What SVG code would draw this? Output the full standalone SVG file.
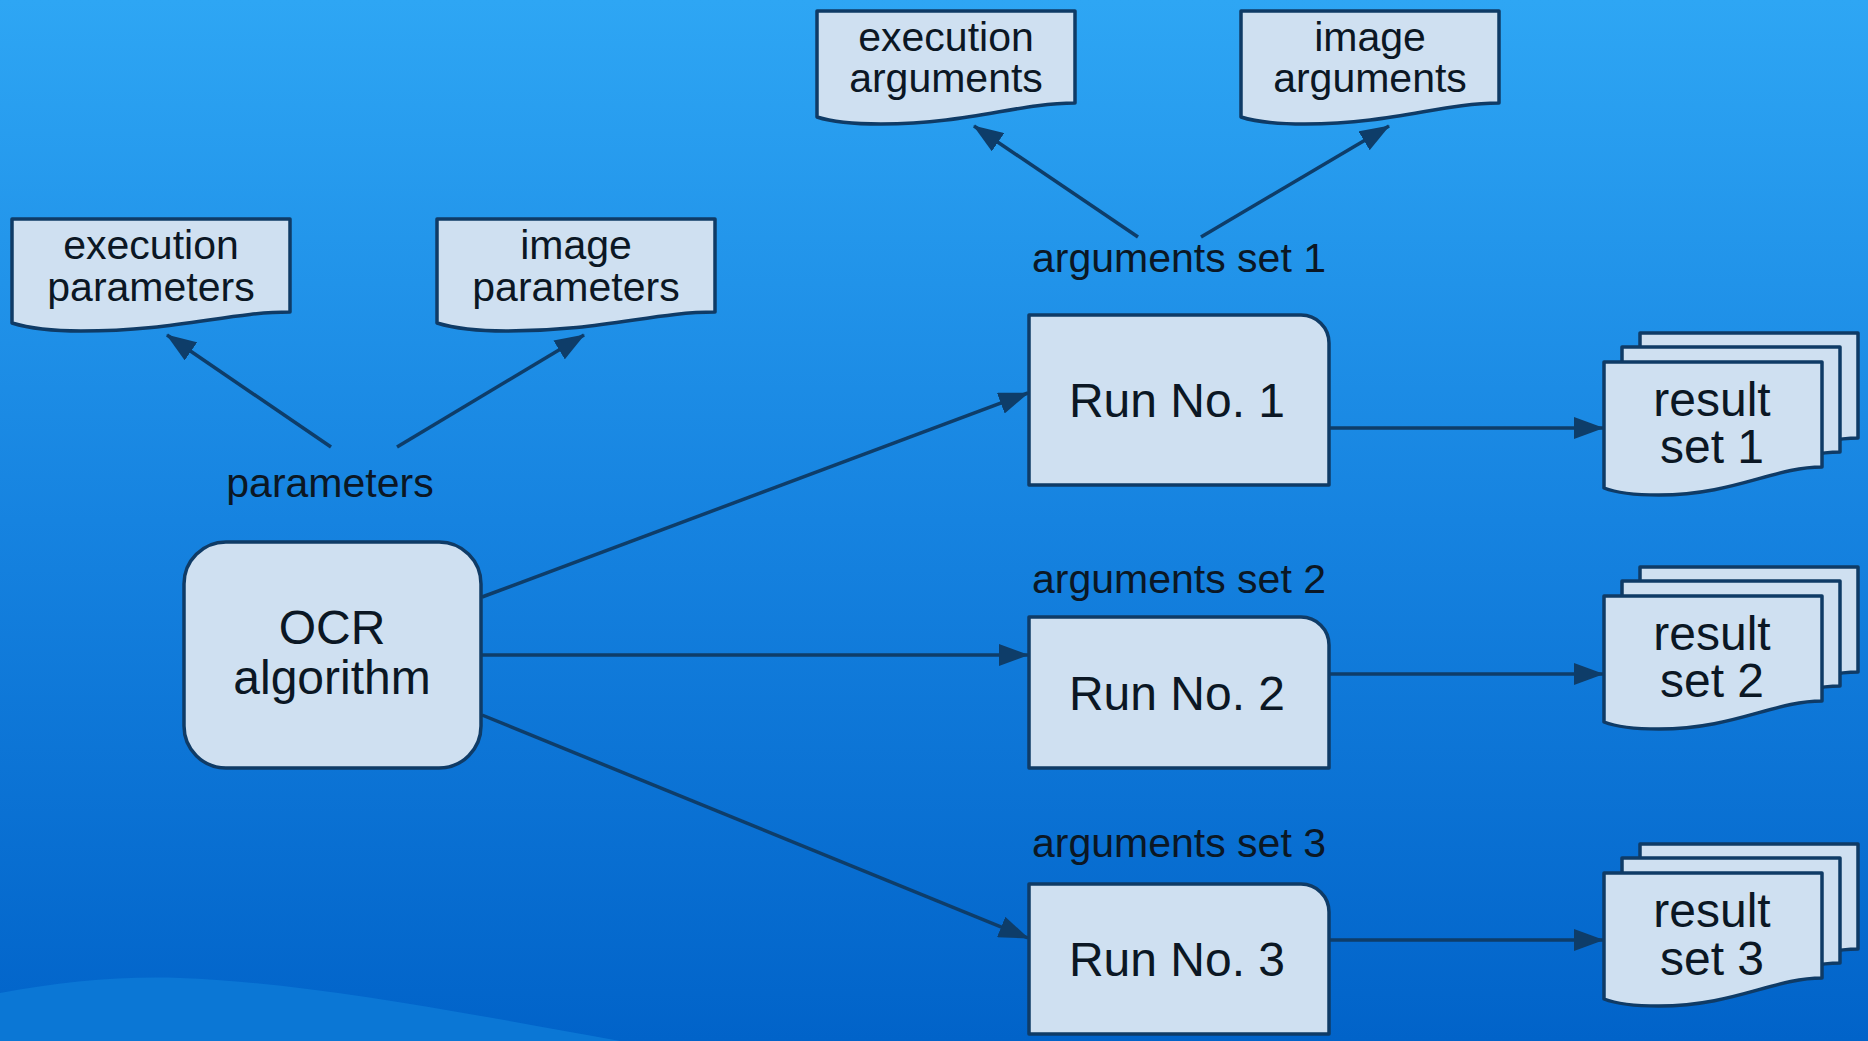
<svg xmlns="http://www.w3.org/2000/svg" width="1868" height="1041" viewBox="0 0 1868 1041">
  <defs>
    <linearGradient id="bg" x1="0" y1="0" x2="0" y2="1">
      <stop offset="0" stop-color="#2ea6f4"/>
      <stop offset="0.5" stop-color="#1683e0"/>
      <stop offset="1" stop-color="#0163c9"/>
    </linearGradient>
    <marker id="arrow" markerUnits="userSpaceOnUse" markerWidth="30" markerHeight="22" refX="29" refY="11" orient="auto">
      <path d="M0,0 L30,11 L0,22 Z" fill="#0e3d69"/>
    </marker>
    <!-- document outlines, drawn from their top-left corner -->
    <path id="docParam" d="M0,0 H278 V93 C217,93 164,112 69,112 C33,112 13,108 0,104 Z"/>
    <path id="docArg" d="M0,0 H258 V92 C201,92 152,113 64,113 C31,113 12,110 0,106 Z"/>
    <path id="docResult" d="M0,0 H218 V105 C170,105 130,133 55,133 C27,133 10,130 0,126 Z"/>
  </defs>
  <style>
    .shape { fill: #cfe0f1; stroke: #0f3b66; stroke-width: 3.5; stroke-linejoin: round; }
    .edge { fill: none; stroke: #0e3d69; stroke-width: 3.5; marker-end: url(#arrow); }
    text { font-family: "Liberation Sans", Arial, sans-serif; fill: #0b1724; text-anchor: middle; }
    .doc { font-size: 41px; }
    .lbl { font-size: 41px; }
    .big { font-size: 48px; }
  </style>

  <!-- background -->
  <rect x="0" y="0" width="1868" height="1041" fill="url(#bg)"/>
  <path d="M0,993 C60,982 120,976 180,978 C300,982 450,1010 620,1041 L0,1041 Z" fill="#0b77d5"/>

  <!-- connectors -->
  <g id="connectors">
    <line class="edge" x1="331" y1="447" x2="167" y2="335"/>
    <line class="edge" x1="397" y1="447" x2="584" y2="335"/>
    <line class="edge" x1="1138" y1="237" x2="974" y2="126"/>
    <line class="edge" x1="1201" y1="237" x2="1389" y2="126"/>
    <line class="edge" x1="482" y1="597" x2="1028" y2="393"/>
    <line class="edge" x1="482" y1="655" x2="1028" y2="655"/>
    <line class="edge" x1="482" y1="715" x2="1028" y2="938"/>
    <line class="edge" x1="1330" y1="428" x2="1603" y2="428"/>
    <line class="edge" x1="1330" y1="674" x2="1603" y2="674"/>
    <line class="edge" x1="1330" y1="940" x2="1603" y2="940"/>
    <text class="lbl" x="330" y="497">parameters</text>
    <text class="lbl" x="1179" y="272">arguments set 1</text>
    <text class="lbl" x="1179" y="593">arguments set 2</text>
    <text class="lbl" x="1179" y="857">arguments set 3</text>
  </g>

  <!-- parameter documents -->
  <g id="exec-params">
    <use href="#docParam" class="shape" transform="translate(12,219)"/>
    <text class="doc" x="151" y="259">execution</text>
    <text class="doc" x="151" y="301">parameters</text>
  </g>
  <g id="image-params">
    <use href="#docParam" class="shape" transform="translate(437,219)"/>
    <text class="doc" x="576" y="259">image</text>
    <text class="doc" x="576" y="301">parameters</text>
  </g>

  <!-- argument documents -->
  <g id="exec-args">
    <use href="#docArg" class="shape" transform="translate(817,11)"/>
    <text class="doc" x="946" y="51">execution</text>
    <text class="doc" x="946" y="92">arguments</text>
  </g>
  <g id="image-args">
    <use href="#docArg" class="shape" transform="translate(1241,11)"/>
    <text class="doc" x="1370" y="51">image</text>
    <text class="doc" x="1370" y="92">arguments</text>
  </g>

  <!-- algorithm -->
  <g id="ocr">
    <rect class="shape" x="184" y="542" width="297" height="226" rx="42" ry="42"/>
    <text class="big" x="332" y="644">OCR</text>
    <text class="big" x="332" y="694">algorithm</text>
  </g>

  <!-- runs: boxes with a rounded top-right corner -->
  <g id="run1">
    <path class="shape" d="M1029,315 H1301 A28,28 0 0 1 1329,343 V485 H1029 Z"/>
    <text class="big" x="1177" y="417">Run No. 1</text>
  </g>
  <g id="run2">
    <path class="shape" d="M1029,617 H1301 A28,28 0 0 1 1329,645 V768 H1029 Z"/>
    <text class="big" x="1177" y="710">Run No. 2</text>
  </g>
  <g id="run3">
    <path class="shape" d="M1029,884 H1301 A28,28 0 0 1 1329,912 V1034 H1029 Z"/>
    <text class="big" x="1177" y="976">Run No. 3</text>
  </g>

  <!-- result stacks -->
  <g id="result1">
    <use href="#docResult" class="shape" transform="translate(1640,333)"/>
    <use href="#docResult" class="shape" transform="translate(1622,347)"/>
    <use href="#docResult" class="shape" transform="translate(1604,362)"/>
    <text class="big" x="1712" y="416">result</text>
    <text class="big" x="1712" y="463">set 1</text>
  </g>
  <g id="result2">
    <use href="#docResult" class="shape" transform="translate(1640,567)"/>
    <use href="#docResult" class="shape" transform="translate(1622,581)"/>
    <use href="#docResult" class="shape" transform="translate(1604,596)"/>
    <text class="big" x="1712" y="650">result</text>
    <text class="big" x="1712" y="697">set 2</text>
  </g>
  <g id="result3">
    <use href="#docResult" class="shape" transform="translate(1640,844)"/>
    <use href="#docResult" class="shape" transform="translate(1622,858)"/>
    <use href="#docResult" class="shape" transform="translate(1604,873)"/>
    <text class="big" x="1712" y="927">result</text>
    <text class="big" x="1712" y="975">set 3</text>
  </g>
</svg>
